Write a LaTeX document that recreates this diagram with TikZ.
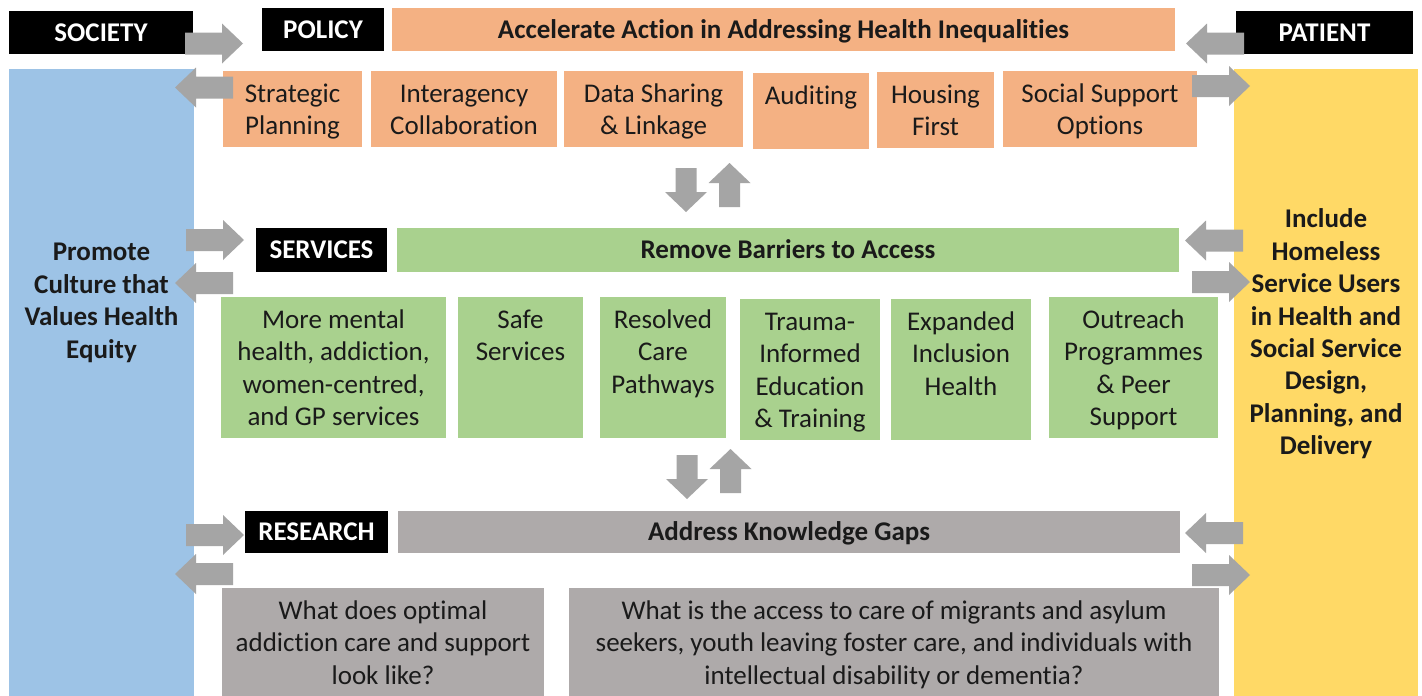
\documentclass[tikz,border=0pt]{standalone}
\usepackage{fontspec}
\setmainfont{Carlito}[Ligatures={NoCommon}]

\definecolor{orangeF}{HTML}{F4B183}
\definecolor{greenF}{HTML}{A9D18E}
\definecolor{grayF}{HTML}{AEAAAA}
\definecolor{blueF}{HTML}{9DC3E6}
\definecolor{yellowF}{HTML}{FFD966}
\definecolor{arrowgray}{HTML}{A5A5A5}
\definecolor{txt}{HTML}{1A1A1A}

% top-aligned, centred text block of fixed size: width, height, top padding, text
\newcommand\cellbox[4]{\parbox[t][#2][t]{#1}{\centering\vspace*{#3}\strut#4\par}}

\tikzset{
  base/.style={inner sep=0pt, outer sep=0pt, anchor=north west,
    font=\fontsize{27}{32.4}\selectfont, text=txt},
  policycell/.style={base, fill=orangeF},
  servcell/.style={base, fill=greenF},
  questcell/.style={base, fill=grayF},
  sidebar/.style={base, font=\fontsize{27}{32.4}\selectfont\bfseries},
  tagbox/.style={base, fill=black, text=white,
    font=\fontsize{27}{32.4}\selectfont\bfseries,
    text height=17.2pt, text depth=0pt},
  headbar/.style={base, font=\fontsize{27}{32.4}\selectfont\bfseries,
    text height=17.2pt, text depth=0pt},
  pics/harrow/.style={code={
    \fill[arrowgray] (0,-11) -- (37,-11) -- (37,-20) -- (58,0) -- (37,20)
      -- (37,11) -- (0,11) -- cycle;}},
  pics/varrow/.style={code={
    \fill[arrowgray] (0,-10.5) -- (24,-10.5) -- (24,-21) -- (44,0) -- (24,21)
      -- (24,10.5) -- (0,10.5) -- cycle;}},
}

\begin{document}
\begin{tikzpicture}[x=1pt, y=-1pt]
  \fill[white] (0,0) rectangle (1422,696);
  \useasboundingbox (0,0) rectangle (1422,696);

  % side columns
  \node[sidebar, fill=blueF] (society) at (9,69)
    {\cellbox{185pt}{627pt}{169.3pt}{Promote\\Culture that\\Values Health\\Equity}};
  \node[sidebar, fill=yellowF] (patient) at (1234,69)
    {\cellbox{184pt}{627pt}{136.3pt}{Include\\Homeless\\Service Users\\in Health and\\Social Service\\Design,\\Planning, and\\Delivery}};

  % labels
  \node[tagbox, minimum width=184pt, minimum height=43pt] (tsoc) at (9,11) {SOCIETY};
  \node[tagbox, minimum width=122pt, minimum height=43pt] (tpol) at (262,8) {POLICY};
  \node[tagbox, minimum width=177pt, minimum height=43pt] (tpat) at (1236,11) {PATIENT};
  \node[tagbox, minimum width=131pt, minimum height=44pt] (tserv) at (256,228) {SERVICES};
  \node[tagbox, minimum width=143pt, minimum height=42pt] (tres) at (245,511) {RESEARCH};

  % headline bars
  \node[headbar, fill=orangeF, minimum width=783pt, minimum height=43pt] (hpol) at (392,8)
    {Accelerate Action in Addressing Health Inequalities};
  \node[headbar, fill=greenF, minimum width=782pt, minimum height=44pt] (hserv) at (397,228)
    {Remove Barriers to Access};
  \node[headbar, fill=grayF, minimum width=782pt, minimum height=42pt] (hres) at (398,511)
    {Address Knowledge Gaps};

  % policy items
  \node[policycell] (p1) at (223,71) {\cellbox{139pt}{76pt}{8.7pt}{Strategic\\Planning}};
  \node[policycell] (p2) at (371,71) {\cellbox{186pt}{76pt}{8.7pt}{Interagency\\Collaboration}};
  \node[policycell] (p3) at (564,71) {\cellbox{179pt}{76pt}{8.7pt}{Data Sharing\\\& Linkage}};
  \node[policycell] (p4) at (753,73) {\cellbox{116pt}{76pt}{8.7pt}{Auditing}};
  \node[policycell] (p5) at (877,72) {\cellbox{117pt}{76pt}{8.7pt}{Housing\\First}};
  \node[policycell] (p6) at (1003,71) {\cellbox{194pt}{76pt}{8.7pt}{Social Support\\Options}};

  % service items
  \node[servcell] (s1) at (221,297) {\cellbox{225pt}{141pt}{8.7pt}{More mental\\health, addiction,\\women-centred,\\and GP services}};
  \node[servcell] (s2) at (458,297) {\cellbox{125pt}{141pt}{8.7pt}{Safe\\Services}};
  \node[servcell] (s3) at (600,297) {\cellbox{126pt}{141pt}{8.7pt}{Resolved\\Care\\Pathways}};
  \node[servcell] (s4) at (740,299) {\cellbox{140pt}{141pt}{8.7pt}{Trauma-\\Informed\\Education\\\& Training}};
  \node[servcell] (s5) at (891,299) {\cellbox{140pt}{141pt}{8.7pt}{Expanded\\Inclusion\\Health}};
  \node[servcell] (s6) at (1049,297) {\cellbox{169pt}{141pt}{8.7pt}{Outreach\\Programmes\\\& Peer\\Support}};

  % research questions
  \node[questcell] (r1) at (222,588) {\cellbox{322pt}{108pt}{8.7pt}{What does optimal\\addiction care and support\\look like?}};
  \node[questcell] (r2) at (569,588) {\cellbox{650pt}{108pt}{8.7pt}{What is the access to care of migrants and asylum\\seekers, youth leaving foster care, and individuals with\\intellectual disability or dementia?}};

  % block arrows between the columns and the rows
  \pic at (185,43.5) {harrow};
  \pic[rotate=180] at (1244,43.5) {harrow};
  \pic[rotate=180] at (233,87.5) {harrow};
  \pic at (1192,86) {harrow};

  \pic at (186,240) {harrow};
  \pic[rotate=180] at (233,283) {harrow};
  \pic[rotate=180] at (1243,240.5) {harrow};
  \pic at (1192,282) {harrow};

  \pic at (186,535) {harrow};
  \pic[rotate=180] at (233,574) {harrow};
  \pic[rotate=180] at (1243,533) {harrow};
  \pic at (1192,575) {harrow};

  % vertical exchange between rows
  \pic[rotate=-90] at (686,168) {varrow};
  \pic[rotate=90] at (729.5,207) {varrow};
  \pic[rotate=-90] at (687,455) {varrow};
  \pic[rotate=90] at (730.5,493) {varrow};
\end{tikzpicture}
\end{document}
